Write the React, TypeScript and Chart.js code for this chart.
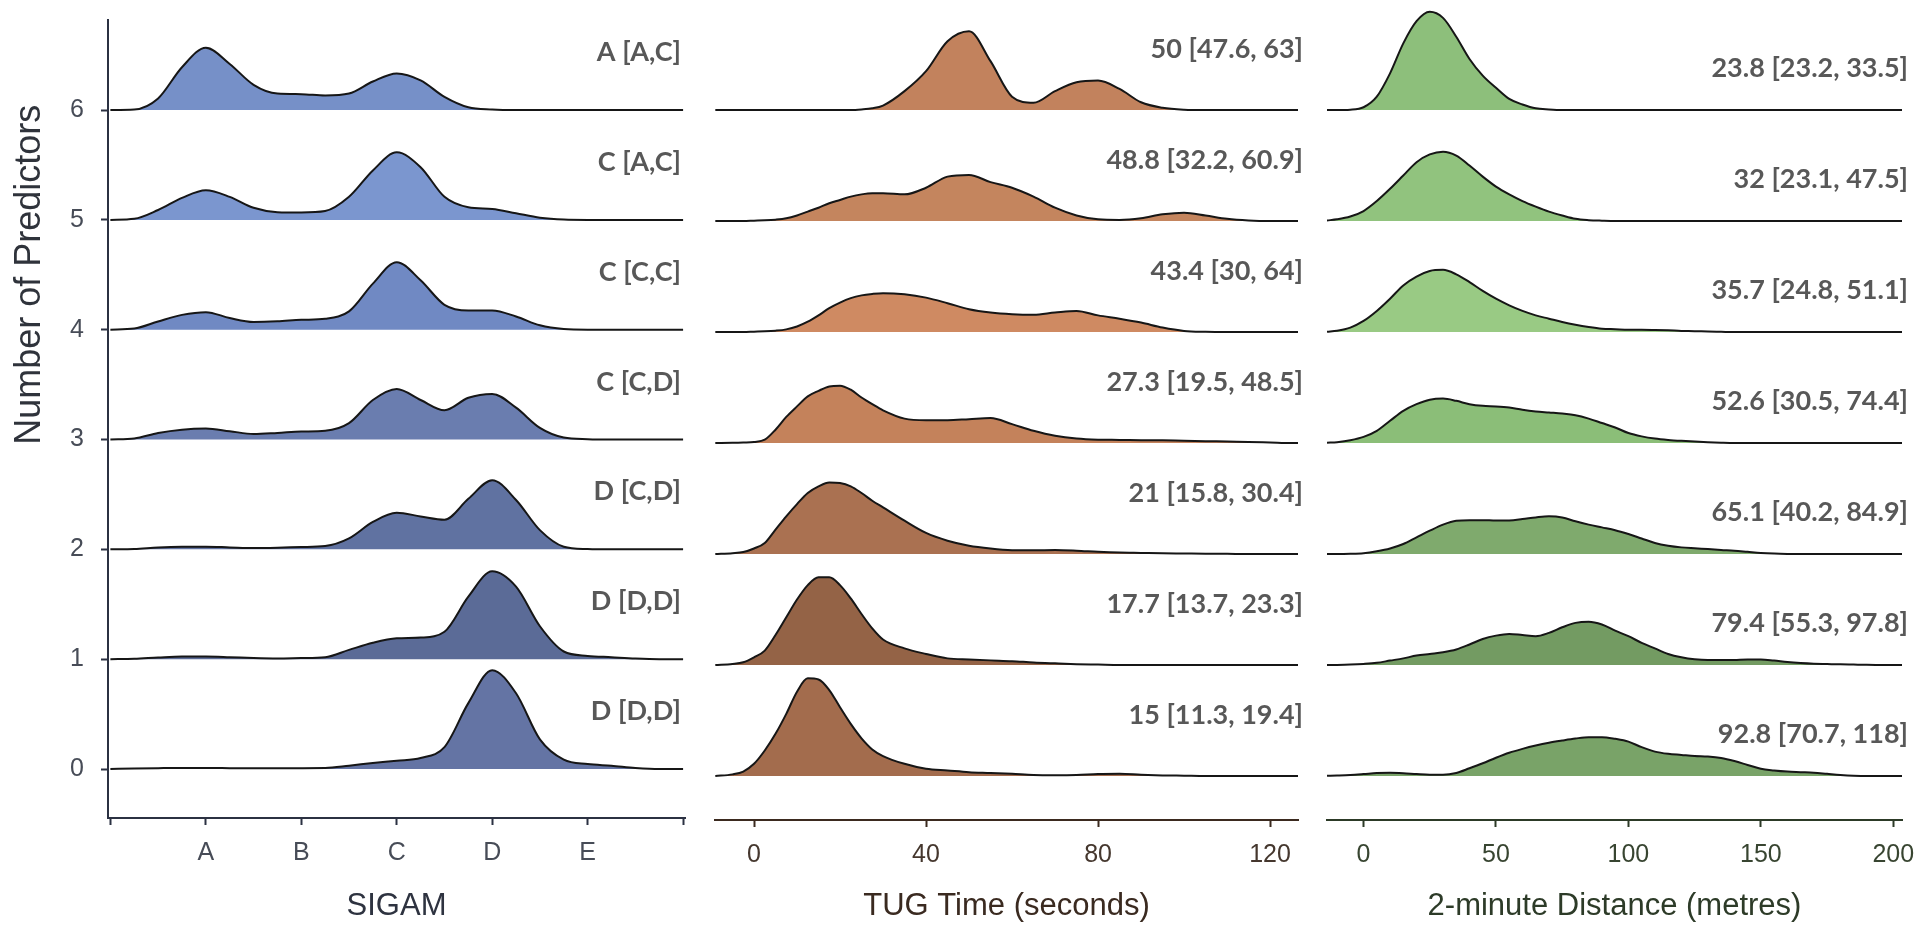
import React, { useEffect, useRef } from 'react';
import { Chart, registerables } from 'chart.js';

Chart.register(...registerables);

// ---------------- data ----------------
const yTickValues = [0, 1, 2, 3, 4, 5, 6];
const yTickLabels = ['0', '1', '2', '3', '4', '5', '6'];

const sigamTickValues = [0, 1, 2, 3, 4, 5, 6];
const sigamTickLabels = ['', 'A', 'B', 'C', 'D', 'E', ''];
const tugTickValues = [0, 40, 80, 120];
const tugTickLabels = ['0', '40', '80', '120'];
const twoMinTickValues = [0, 50, 100, 150, 200];
const twoMinTickLabels = ['0', '50', '100', '150', '200'];

// SIGAM grade scale: 0 .. 6 (A=1 ... E=5)
const sigamX = [0, 0.25, 0.5, 0.75, 1, 1.25, 1.5, 1.75, 2, 2.25, 2.5, 2.75, 3, 3.25, 3.5, 3.75, 4, 4.25, 4.5, 4.75, 5, 5.25, 5.5, 5.75, 6];
const sigamRow0 = [0, .005, .008, .01, .01, .008, .006, .006, .008, .009, .03, .055, .076, .1, .2, .6, .9, .69, .27, .085, .045, .03, .01, 0, 0];
const sigamRow1 = [0, .003, .015, .024, .024, .018, .01, .006, .01, .018, .085, .15, .19, .197, .25, .57, .8, .66, .3, .07, .03, .018, .006, 0, 0];
const sigamRow2 = [0, .003, .018, .024, .024, .018, .012, .015, .021, .03, .1, .25, .333, .3, .27, .46, .63, .45, .175, .024, .003, 0, 0, 0, 0];
const sigamRow3 = [0, .01, .06, .09, .1, .076, .05, .06, .073, .08, .15, .36, .46, .36, .267, .38, .415, .29, .106, .018, .003, 0, 0, 0, 0];
const sigamRow4 = [0, .01, .075, .135, .16, .106, .07, .076, .09, .1, .167, .42, .615, .45, .227, .175, .175, .12, .04, .006, 0, 0, 0, 0, 0];
const sigamRow5 = [0, .01, .09, .2, .27, .21, .11, .07, .067, .08, .21, .45, .615, .48, .21, .115, .1, .06, .02, .003, 0, 0, 0, 0, 0];
const sigamRow6 = [0, .005, .106, .39, .567, .42, .23, .15, .145, .133, .15, .26, .333, .27, .12, .025, .005, 0, 0, 0, 0, 0, 0, 0, 0];

// TUG time (seconds)
const tugX = [-9, -5, -2.5, 0, 2.5, 5, 7.5, 10, 12.5, 15, 17.5, 20, 22.5, 25, 27.5, 30, 35, 40, 45, 50, 55, 60, 65, 70, 75, 80, 85, 90, 95, 100, 105, 110, 115, 120, 125, 126.5];
const tugRow0 = [0, .015, .04, .11, .23, .38, .56, .76, .88, .87, .775, .62, .47, .34, .24, .18, .11, .065, .05, .035, .028, .02, .01, .008, .01, .018, .02, .012, .006, .003, 0, 0, 0, 0, 0, 0];
const tugRow1 = [0, .01, .025, .07, .13, .27, .43, .59, .72, .79, .79, .72, .6, .46, .33, .23, .15, .1, .06, .05, .042, .035, .023, .015, .008, .004, 0, 0, 0, 0, 0, 0, 0, 0, 0, 0];
const tugRow2 = [0, .008, .018, .05, .1, .22, .34, .45, .55, .61, .645, .64, .61, .55, .48, .42, .3, .19, .12, .075, .05, .035, .033, .036, .03, .02, .013, .01, .007, .005, .003, .002, 0, 0, 0, 0];
const tugRow3 = [0, .002, .005, .01, .03, .12, .235, .33, .42, .47, .51, .517, .48, .41, .35, .295, .22, .205, .205, .215, .225, .17, .11, .065, .04, .03, .028, .025, .024, .02, .017, .013, .01, .005, 0, 0];
const tugRow4 = [0, 0, 0, .003, .006, .012, .024, .05, .093, .15, .215, .265, .305, .33, .343, .35, .34, .31, .26, .205, .175, .16, .155, .175, .19, .15, .12, .085, .04, .01, .002, 0, 0, 0, 0, 0];
const tugRow5 = [0, 0, 0, .003, .006, .012, .024, .05, .085, .12, .16, .19, .22, .24, .25, .25, .24, .3, .4, .415, .35, .3, .22, .12, .05, .015, .01, .025, .06, .075, .05, .02, .005, 0, 0, 0];
const tugRow6 = [0, 0, 0, 0, 0, 0, 0, 0, 0, 0, 0, 0, 0, .005, .015, .04, .17, .35, .62, .71, .44, .12, .065, .17, .25, .265, .19, .07, .02, .003, 0, 0, 0, 0, 0, 0];

// 2-minute walk distance (metres)
const twoMinX = [-13.8, -10, -5, 0, 5, 10, 15, 20, 25, 30, 35, 40, 45, 50, 55, 60, 65, 70, 75, 80, 85, 90, 95, 100, 105, 110, 115, 120, 125, 130, 135, 140, 145, 150, 155, 160, 165, 170, 175, 180, 185, 190, 195, 200, 203.3];
const twoMinRow0 = [.002, .005, .01, .018, .027, .03, .026, .018, .012, .012, .028, .07, .115, .165, .21, .245, .275, .3, .32, .338, .35, .35, .335, .31, .26, .22, .2, .19, .18, .175, .162, .135, .1, .065, .05, .04, .035, .03, .02, .01, .003, 0, 0, 0, 0];
const twoMinRow1 = [0, .001, .004, .01, .02, .04, .06, .085, .1, .115, .14, .185, .235, .265, .28, .27, .26, .29, .34, .38, .39, .365, .31, .26, .2, .15, .1, .07, .052, .045, .045, .046, .05, .05, .04, .027, .018, .012, .009, .006, .004, .002, .001, 0, 0];
const twoMinRow2 = [0, 0, .002, .008, .025, .05, .09, .15, .21, .265, .3, .305, .305, .302, .303, .315, .33, .34, .33, .295, .265, .24, .215, .18, .14, .1, .075, .06, .052, .045, .037, .03, .02, .01, .004, .001, 0, 0, 0, 0, 0, 0, 0, 0, 0];
const twoMinRow3 = [.002, .008, .025, .055, .11, .2, .29, .35, .39, .4, .38, .35, .335, .33, .32, .3, .285, .275, .265, .25, .22, .18, .14, .09, .06, .04, .028, .02, .014, .008, .003, 0, 0, 0, 0, 0, 0, 0, 0, 0, 0, 0, 0, 0, 0];
const twoMinRow4 = [.003, .012, .04, .1, .19, .3, .42, .5, .55, .56, .52, .45, .37, .3, .24, .19, .15, .12, .09, .065, .045, .03, .025, .02, .02, .018, .015, .01, .008, .004, .002, 0, 0, 0, 0, 0, 0, 0, 0, 0, 0, 0, 0, 0, 0];
const twoMinRow5 = [.005, .015, .04, .09, .18, .29, .41, .53, .6, .625, .59, .5, .4, .31, .24, .18, .13, .085, .05, .02, .008, .003, 0, 0, 0, 0, 0, 0, 0, 0, 0, 0, 0, 0, 0, 0, 0, 0, 0, 0, 0, 0, 0, 0, 0];
const twoMinRow6 = [0, 0, .003, .025, .12, .33, .6, .8, .885, .83, .66, .46, .31, .2, .1, .05, .015, .005, 0, 0, 0, 0, 0, 0, 0, 0, 0, 0, 0, 0, 0, 0, 0, 0, 0, 0, 0, 0, 0, 0, 0, 0, 0, 0, 0];

// median [IQR] annotations, row 0 .. row 6
const sigamLabels = ['D [D,D]', 'D [D,D]', 'D [C,D]', 'C [C,D]', 'C [C,C]', 'C [A,C]', 'A [A,C]'];
const tugLabels = ['15 [11.3, 19.4]', '17.7 [13.7, 23.3]', '21 [15.8, 30.4]', '27.3 [19.5, 48.5]', '43.4 [30, 64]', '48.8 [32.2, 60.9]', '50 [47.6, 63]'];
const twoMinLabels = ['92.8 [70.7, 118]', '79.4 [55.3, 97.8]', '65.1 [40.2, 84.9]', '52.6 [30.5, 74.4]', '35.7 [24.8, 51.1]', '32 [23.1, 47.5]', '23.8 [23.2, 33.5]'];

// fill colours, row 0 .. row 6
const sigamColors = ['#6474a4', '#5b6b97', '#6072a1', '#6a7daf', '#7089c3', '#7b96cf', '#7690c8'];
const tugColors = ['#a36c4d', '#946346', '#aa7151', '#c4825b', '#cf8a62', '#c4855e', '#c2825d'];
const twoMinColors = ['#79a368', '#739b62', '#7faa6d', '#8bbe78', '#99ca84', '#91c37e', '#8dbf7b'];

// ---------------- chart building ----------------
const SANS = "'Liberation Sans', Arial, Helvetica, sans-serif";
const LABEL_FONT = "700 27px Lato, 'Open Sans', sans-serif";
const TICK_SIZE = 25;

type Panel = {
  key: string;
  left: number;
  width: number;
  padding: { top: number; left: number; right: number; bottom: number };
  xs: number[];
  rows: number[][];
  colors: string[];
  xMin: number;
  xMax: number;
  yMin: number;
  yMax: number;
  xTicks: number[];
  xTickLabels: string[];
  xTitle: string;
  xAxisHeight: number;
  axisColor: string;
  tickColor: string;
  titleColor: string;
  labels: string[];
  labelOffset: number;
  labelDx: number;
  showY: boolean;
};

const panels: Panel[] = [
  {
    key: 'sigam', left: 0, width: 700,
    padding: { top: 20, left: 0, right: 15, bottom: 0 },
    xs: sigamX,
    rows: [sigamRow0, sigamRow1, sigamRow2, sigamRow3, sigamRow4, sigamRow5, sigamRow6],
    colors: sigamColors,
    xMin: -0.025, xMax: 6.02, yMin: -0.446, yMax: 6.82,
    xTicks: sigamTickValues, xTickLabels: sigamTickLabels, xTitle: 'SIGAM', xAxisHeight: 107,
    axisColor: '#2b3142', tickColor: '#474c57', titleColor: '#2e3340',
    labels: sigamLabels, labelOffset: 0.525, labelDx: -4, showY: true,
  },
  {
    key: 'tug', left: 700, width: 610,
    padding: { top: 5, left: 15, right: 12, bottom: 0 },
    xs: tugX,
    rows: [tugRow0, tugRow1, tugRow2, tugRow3, tugRow4, tugRow5, tugRow6],
    colors: tugColors,
    xMin: -9.07, xMax: 126.5, yMin: -0.396, yMax: 6.946,
    xTicks: tugTickValues, xTickLabels: tugTickLabels, xTitle: 'TUG Time (seconds)', xAxisHeight: 105,
    axisColor: '#3b2a1f', tickColor: '#45372e', titleColor: '#3a2a20',
    labels: tugLabels, labelOffset: 0.55, labelDx: 5, showY: false,
  },
  {
    key: 'twomin', left: 1310, width: 607,
    padding: { top: 5, left: 17, right: 15, bottom: 0 },
    xs: twoMinX,
    rows: [twoMinRow0, twoMinRow1, twoMinRow2, twoMinRow3, twoMinRow4, twoMinRow5, twoMinRow6],
    colors: twoMinColors,
    xMin: -13.8, xMax: 203.3, yMin: -0.396, yMax: 6.946,
    xTicks: twoMinTickValues, xTickLabels: twoMinTickLabels, xTitle: '2-minute Distance (metres)', xAxisHeight: 105,
    axisColor: '#2c3a27', tickColor: '#384531', titleColor: '#2d3b28',
    labels: twoMinLabels, labelOffset: 0.38, labelDx: 6, showY: false,
  },
];

function labelPlugin(p: Panel) {
  return {
    id: 'ridgeLabels_' + p.key,
    afterDraw(chart: any) {
      const { ctx } = chart;
      const xs = chart.scales.x;
      const ys = chart.scales.y;
      ctx.save();
      ctx.font = LABEL_FONT;
      ctx.fillStyle = '#585858';
      ctx.textAlign = 'right';
      ctx.textBaseline = 'middle';
      p.labels.forEach((t, r) => {
        ctx.fillText(t, xs.right + p.labelDx, ys.getPixelForValue(r + p.labelOffset));
      });
      if (p.showY) {
        ctx.translate(30, ys.getPixelForValue(4.5));
        ctx.rotate(-Math.PI / 2);
        ctx.font = `36px ${SANS}`;
        ctx.fillStyle = '#2f333b';
        ctx.textAlign = 'center';
        ctx.fillText('Number of Predictors', 0, 0);
      }
      ctx.restore();
    },
  };
}

function buildConfig(p: Panel): any {
  const datasets = p.rows.map((vals, r) => ({
    data: vals.map((h, i) => ({ x: p.xs[i], y: r + h })),
    borderColor: '#161616',
    borderWidth: 2,
    backgroundColor: p.colors[r],
    fill: { value: r },
    pointRadius: 0,
    pointHoverRadius: 0,
    cubicInterpolationMode: 'monotone',
  }));

  const yScale: any = p.showY
    ? {
        type: 'linear',
        min: p.yMin,
        max: p.yMax,
        afterBuildTicks: (s: any) => { s.ticks = yTickValues.map((v) => ({ value: v })); },
        afterFit: (s: any) => { s.width = 108; s.paddingTop = 0; s.paddingBottom = 0; },
        ticks: {
          callback: (v: number) => yTickLabels[yTickValues.indexOf(v)],
          font: { family: SANS, size: TICK_SIZE },
          color: p.tickColor,
          padding: 17,
        },
        grid: { display: true, drawOnChartArea: false, drawTicks: true, tickLength: 7, tickColor: p.axisColor, tickWidth: 2 },
        border: { display: true, color: p.axisColor, width: 2 },
        title: { display: false },
      }
    : { type: 'linear', display: false, min: p.yMin, max: p.yMax };

  return {
    type: 'line',
    data: { datasets },
    options: {
      animation: false,
      responsive: false,
      devicePixelRatio: 1,
      events: [],
      layout: { padding: p.padding },
      plugins: { legend: { display: false }, tooltip: { enabled: false } },
      scales: {
        x: {
          type: 'linear',
          min: p.xMin,
          max: p.xMax,
          afterBuildTicks: (s: any) => { s.ticks = p.xTicks.map((v) => ({ value: v })); },
          afterFit: (s: any) => { s.height = p.xAxisHeight; s.paddingLeft = 0; s.paddingRight = 0; },
          ticks: {
            callback: (v: number) => p.xTickLabels[p.xTicks.indexOf(v)],
            font: { family: SANS, size: TICK_SIZE },
            color: p.tickColor,
            padding: 13,
            maxRotation: 0,
            autoSkip: false,
          },
          grid: { display: true, drawOnChartArea: false, drawTicks: true, tickLength: 7, tickColor: p.axisColor, tickWidth: 2 },
          border: { display: true, color: p.axisColor, width: 2 },
          title: {
            display: true,
            text: p.xTitle,
            font: { family: SANS, size: 31 },
            color: p.titleColor,
            padding: { top: 0, bottom: 0 },
          },
        },
        y: yScale,
      },
    },
    plugins: [labelPlugin(p)],
  };
}

function RidgePanel({ p }: { p: Panel }) {
  const ref = useRef<HTMLCanvasElement>(null);
  useEffect(() => {
    let chart: Chart | null = null;
    let cancelled = false;
    const make = () => {
      if (cancelled || !ref.current) return;
      chart = new Chart(ref.current, buildConfig(p));
    };
    const fonts: any = (document as any).fonts;
    if (fonts && fonts.load) {
      Promise.all([fonts.load(LABEL_FONT), fonts.load(`31px ${SANS}`)]).then(make, make);
    } else {
      make();
    }
    return () => {
      cancelled = true;
      if (chart) chart.destroy();
    };
  }, [p]);
  return (
    <canvas
      ref={ref}
      width={p.width}
      height={925}
      style={{ position: 'absolute', left: p.left, top: 0, width: p.width, height: 925 }}
    />
  );
}

export default function App() {
  return (
    <div style={{ position: 'fixed', left: 0, top: 0, width: 1917, height: 925, background: '#ffffff', overflow: 'hidden' }}>
      {panels.map((p) => (
        <RidgePanel key={p.key} p={p} />
      ))}
    </div>
  );
}
